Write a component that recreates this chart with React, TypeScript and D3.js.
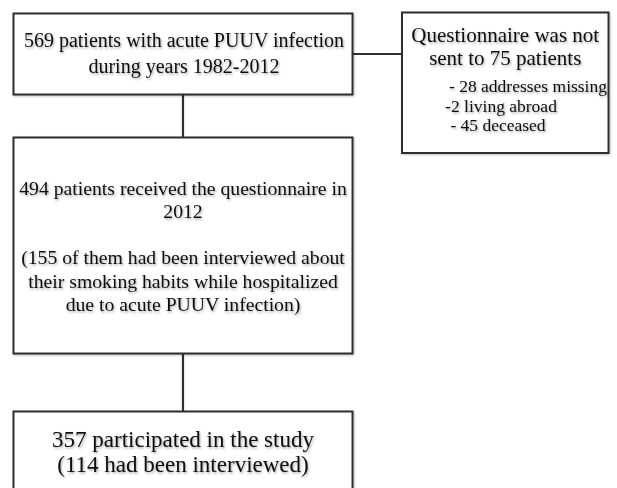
import React from "react";
import * as d3 from "d3";

// Box texts of the flow chart
const topLines = ["569 patients with acute PUUV infection", "during years 1982-2012"];
const excludedTitle = ["Questionnaire was not", "sent to 75 patients"];
const excludedItems = ["- 28 addresses missing", "-2 living abroad", "- 45 deceased"];
const receivedLines = [
  "494 patients received the questionnaire in",
  "2012",
  "(155 of them had been interviewed about",
  "their smoking habits while hospitalized",
  "due to acute PUUV infection)",
];
const participatedLines = ["357 participated in the study", "(114 had been interviewed)"];

const W = 617;
const H = 488;

type B = { x0: number; y0: number; x1: number; y1: number };

const boxes: Record<string, B> = {
  top: { x0: 13.5, y0: 13.5, x1: 352.5, y1: 94.5 },
  excl: { x0: 402, y0: 12.5, x1: 608.5, y1: 153 },
  recv: { x0: 13.5, y0: 137.5, x1: 352.5, y1: 353.5 },
  part: { x0: 13.5, y0: 411.5, x1: 352.5, y1: 520 },
};
const cx = (boxes.top.x0 + boxes.top.x1) / 2;

const font = "'Liberation Serif', 'Times New Roman', serif";
const stroke = "#2f2f2f";

const Box = ({ b }: { b: B }) => (
  <rect
    x={b.x0}
    y={b.y0}
    width={b.x1 - b.x0}
    height={b.y1 - b.y0}
    fill="#fff"
    stroke={stroke}
    strokeWidth={2}
    filter="url(#boxShadow)"
  />
);

export default function App() {
  const line = d3.line();
  const connectors: [number, number][][] = [
    [
      [boxes.top.x1, 54],
      [boxes.excl.x0, 54],
    ],
    [
      [cx, boxes.top.y1],
      [cx, boxes.recv.y0],
    ],
    [
      [cx, boxes.recv.y1],
      [cx, boxes.part.y0],
    ],
  ];

  const topY = d3.scalePoint().domain(topLines).range([47, 73]);
  const exclY = d3.scalePoint().domain(excludedTitle).range([42, 65]);
  const itemY = d3.scaleLinear().domain([0, excludedItems.length - 1]).range([92, 131]);
  const itemX = [528, 501, 498];
  // blank line between first two lines and the parenthesised part
  const recvBase = [195, 218, 264, 288, 311];
  const partY = d3.scalePoint().domain(participatedLines).range([447, 472]);

  return (
    <svg
      width={W}
      height={H}
      style={{ position: "absolute", left: 0, top: 0, background: "#fff" }}
      fontFamily={font}
      fill="#111"
    >
      <defs>
        <filter id="txtShadow" x="-5%" y="-30%" width="110%" height="160%">
          <feDropShadow dx="1" dy="1.5" stdDeviation="1.1" floodColor="#000" floodOpacity="0.35" />
        </filter>
        <filter id="boxShadow" x="-5%" y="-5%" width="110%" height="110%">
          <feDropShadow dx="1" dy="1" stdDeviation="0.8" floodColor="#000" floodOpacity="0.25" />
        </filter>
      </defs>

      {connectors.map((c, i) => (
        <path key={i} d={line(c) ?? ""} stroke={stroke} strokeWidth={2.2} fill="none" />
      ))}

      <Box b={boxes.top} />
      <Box b={boxes.excl} />
      <Box b={boxes.recv} />
      <Box b={boxes.part} />

      <g filter="url(#txtShadow)" textAnchor="middle">
        {topLines.map((t) => (
          <text key={t} x={cx + 1} y={topY(t)} fontSize={20}>
            {t}
          </text>
        ))}
        {excludedTitle.map((t) => (
          <text key={t} x={(boxes.excl.x0 + boxes.excl.x1) / 2} y={exclY(t)} fontSize={21}>
            {t}
          </text>
        ))}
        {excludedItems.map((t, i) => (
          <text key={t} x={itemX[i]} y={itemY(i)} fontSize={17.5}>
            {t}
          </text>
        ))}
        {receivedLines.map((t, i) => (
          <text key={t} x={cx} y={recvBase[i]} fontSize={19.7}>
            {t}
          </text>
        ))}
        {participatedLines.map((t) => (
          <text key={t} x={cx} y={partY(t)} fontSize={23}>
            {t}
          </text>
        ))}
      </g>
    </svg>
  );
}
